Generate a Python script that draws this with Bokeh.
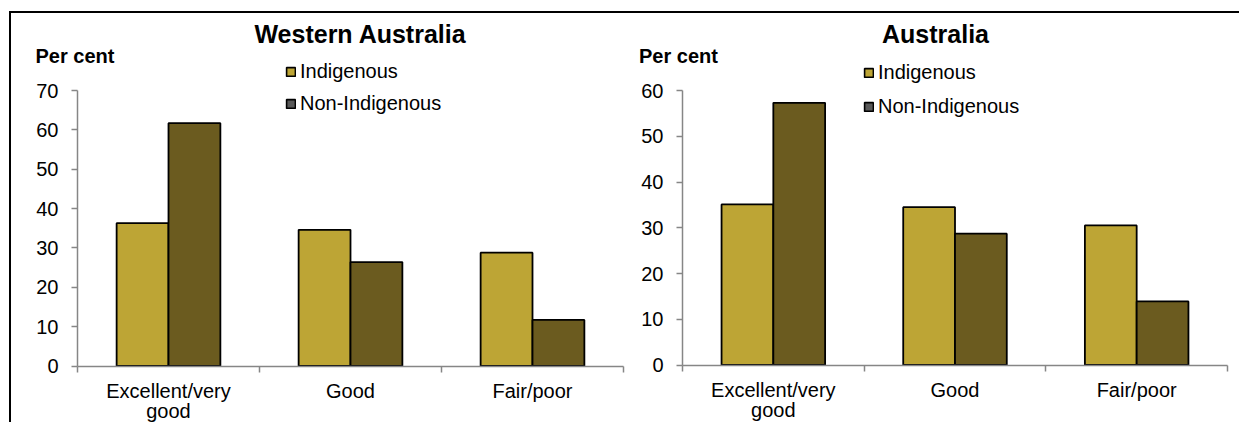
from bokeh.plotting import figure
from bokeh.models import FixedTicker, Label, Legend, LegendItem, Range1d
from bokeh.layouts import row
from bokeh.embed import file_html
from bokeh.resources import INLINE
from bokeh.transform import dodge

# ---- data ----
categories = ["Excellent/very good", "Good", "Fair/poor"]
category_labels = ["Excellent/very\ngood", "Good", "Fair/poor"]
series_names = ["Indigenous", "Non-Indigenous"]

wa_indigenous = [36.3, 34.6, 28.8]
wa_non_indigenous = [61.7, 26.4, 11.7]

aus_indigenous = [35.1, 34.5, 30.5]
aus_non_indigenous = [57.3, 28.7, 13.9]

wa_y_ticks = [0, 10, 20, 30, 40, 50, 60, 70]
aus_y_ticks = [0, 10, 20, 30, 40, 50, 60]

# ---- style / layout (page pixels) ----
FONT = "Liberation Sans"
IND_COLOR = "#BDA535"
NON_COLOR = "#6B5B1F"
NON_LEGEND_COLOR = "#595959"
AXIS_COLOR = "#868686"
BAR_W = 0.285
CANVAS_TOP = 13
CANVAS_H = 409
CANVAS_BOTTOM = CANVAS_TOP + CANVAS_H
NAN = float("nan")


def make_chart(title, ind_vals, non_vals, y_ticks, canvas_left, width,
               ax_x0, ax_x1, ax_y0, ax_y1, title_cx, pc_x, legend_x,
               legend_bottom, legend_spacing):
    n = len(categories)
    centers = [i + 0.5 for i in range(n)]
    ymin, ymax = y_ticks[0], y_ticks[-1]
    pxx = (ax_x1 - ax_x0) / n
    pxy = (ax_y0 - ax_y1) / (ymax - ymin)
    x_range = Range1d(-(ax_x0 - canvas_left) / pxx, n + (canvas_left + width - ax_x1) / pxx)
    y_range = Range1d(ymin - (CANVAS_BOTTOM - ax_y0) / pxy, ymax + (ax_y1 - CANVAS_TOP) / pxy)

    def sx(px):
        return px - canvas_left

    def sy(py):
        return CANVAS_BOTTOM - py

    p = figure(width=width, height=CANVAS_H, x_range=x_range, y_range=y_range,
               output_backend="svg", toolbar_location=None,
               min_border_left=0, min_border_right=0,
               min_border_top=0, min_border_bottom=0)
    p.outline_line_color = None
    p.xgrid.visible = False
    p.ygrid.visible = False
    p.background_fill_color = "white"
    p.border_fill_color = "white"

    src = dict(x=centers, ind=ind_vals, non=non_vals)
    p.vbar(x=dodge("x", -BAR_W / 2), top="ind", width=BAR_W, source=src,
           fill_color=IND_COLOR, line_color="black", line_width=1.8)
    p.vbar(x=dodge("x", BAR_W / 2), top="non", width=BAR_W, source=src,
           fill_color=NON_COLOR, line_color="black", line_width=1.8)

    # y axis
    ya = p.yaxis[0]
    ya.fixed_location = 0
    ya.bounds = (ymin, ymax)
    ya.ticker = FixedTicker(ticks=y_ticks)
    ya.axis_line_color = AXIS_COLOR
    ya.axis_line_width = 1.5
    ya.major_tick_line_color = AXIS_COLOR
    ya.major_tick_line_width = 1.5
    ya.major_tick_out = 6
    ya.major_tick_in = 0
    ya.minor_tick_line_color = None
    ya.major_label_standoff = 13
    ya.major_label_text_font = FONT
    ya.major_label_text_font_size = "20px"
    ya.major_label_text_color = "black"

    # x axis: labels at category centres, ticks at category boundaries
    xa = p.xaxis[0]
    xa.fixed_location = ymin
    xa.bounds = (0, n)
    xa.ticker = FixedTicker(ticks=centers, minor_ticks=list(range(n + 1)))
    xa.major_label_overrides = {c: lab for c, lab in zip(centers, category_labels)}
    xa.axis_line_color = AXIS_COLOR
    xa.axis_line_width = 1.5
    xa.major_tick_line_color = None
    xa.major_tick_out = 0
    xa.major_tick_in = 0
    xa.minor_tick_line_color = AXIS_COLOR
    xa.minor_tick_line_width = 1.5
    xa.minor_tick_out = 6
    xa.minor_tick_in = 0
    xa.major_label_standoff = 8
    xa.major_label_text_font = FONT
    xa.major_label_text_font_size = "20px"
    xa.major_label_text_color = "black"
    xa.major_label_text_line_height = 0.9

    # title and unit label
    p.add_layout(Label(x=sx(title_cx), y=sy(33.5), x_units="screen", y_units="screen",
                       text=title, text_align="center", text_baseline="alphabetic",
                       text_font=FONT, text_font_size="25px", text_font_style="bold",
                       text_color="black"))
    p.add_layout(Label(x=sx(pc_x), y=sy(55.5), x_units="screen", y_units="screen",
                       text="Per cent", text_align="left", text_baseline="alphabetic",
                       text_font=FONT, text_font_size="20px", text_font_style="bold",
                       text_color="black"))

    # legend keys (Non-Indigenous key is grey in the original); no visible marks
    r1 = p.vbar(x=[NAN], top=[NAN], width=0.1, fill_color=IND_COLOR,
                line_color="black", line_width=1.6)
    r2 = p.vbar(x=[NAN], top=[NAN], width=0.1, fill_color=NON_LEGEND_COLOR,
                line_color="black", line_width=1.6)
    leg = Legend(items=[LegendItem(label=series_names[0], renderers=[r1]),
                        LegendItem(label=series_names[1], renderers=[r2])],
                 location=(sx(legend_x), sy(legend_bottom)))
    leg.glyph_width = 11
    leg.glyph_height = 11
    leg.label_standoff = 4
    leg.label_text_font = FONT
    leg.label_text_font_size = "20px"
    leg.label_text_color = "black"
    leg.spacing = legend_spacing
    leg.padding = 0
    leg.margin = 0
    leg.border_line_color = None
    leg.background_fill_alpha = 0
    p.add_layout(leg, "center")
    return p


p1 = make_chart("Western Australia", wa_indigenous, wa_non_indigenous, wa_y_ticks,
                canvas_left=11, width=620, ax_x0=77, ax_x1=623, ax_y0=365.5, ax_y1=90,
                title_cx=360, pc_x=35, legend_x=285, legend_bottom=115, legend_spacing=9)
p2 = make_chart("Australia", aus_indigenous, aus_non_indigenous, aus_y_ticks,
                canvas_left=631, width=608, ax_x0=682, ax_x1=1227, ax_y0=364.5, ax_y1=90,
                title_cx=935, pc_x=638.5, legend_x=863, legend_bottom=117.5, legend_spacing=11)

layout = row(p1, p2, styles={"border-top": "2px solid black", "border-left": "2px solid black"})
layout.margin = (11, 0, 0, 9)

open("out.html", "w").write(file_html(layout, INLINE))
